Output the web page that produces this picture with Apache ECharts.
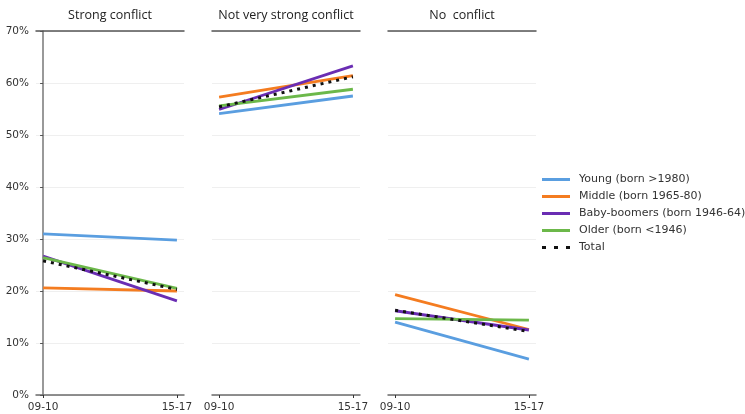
<!DOCTYPE html>
<html>
<head>
<meta charset="utf-8">
<script src="https://cdn.jsdelivr.net/npm/echarts@6/dist/echarts.min.js"></script>
<style>
  html, body { margin: 0; padding: 0; background: #fff; }
  #chart { width: 745px; height: 414px; }
</style>
</head>
<body>
<div id="chart"></div>
<script>
// Periods on the x axis (position 0 and 1)
const periods = ['09-10', '15-17'];
const panels = ['Strong conflict', 'Not very strong conflict', 'No  conflict'];
const groups = ['Young (born >1980)', 'Middle (born 1965-80)', 'Baby-boomers (born 1946-64)', 'Older (born <1946)', 'Total'];

// Share (%) per group: [09-10, 15-17] for each panel
const young   = [[31.0, 29.8], [54.1, 57.5], [14.0, 6.9]];
const middle  = [[20.6, 20.0], [57.3, 61.4], [19.3, 12.6]];
const boomers = [[26.7, 18.1], [54.9, 63.3], [16.2, 12.5]];
const older   = [[26.4, 20.5], [55.6, 58.8], [14.7, 14.4]];
const total   = [[25.8, 20.3], [55.4, 61.2], [16.3, 12.2]];

const seriesValues = [young, middle, boomers, older, total];
const colors = ['#5a9ee0', '#f47c20', '#6a2db3', '#6cb84a', '#111111'];

const gridLefts = [36, 212, 388];
const gridWidth = 148;

const grids = [], xAxes = [], yAxes = [], series = [];
panels.forEach((title, p) => {
  grids.push({ left: gridLefts[p], width: gridWidth, top: 31, bottom: 19, outerBoundsMode: 'none', containLabel: false });
  // bottom axis with two period ticks
  xAxes.push({
    type: 'value', gridIndex: p, min: -0.053, max: 1.053, position: 'bottom',
    axisLine: { show: true, lineStyle: { color: '#6b6b6b', width: 1.5 } },
    axisTick: { show: true, customValues: [0, 1], length: 3, lineStyle: { color: '#333' } },
    axisLabel: { show: true, customValues: [0, 1], color: '#333', fontSize: 10.5, margin: 7,
      fontFamily: 'DejaVu Sans',
      formatter: v => periods[Math.round(v)] },
    splitLine: { show: false }
  });
  // top border line carrying the panel title
  xAxes.push({
    type: 'value', gridIndex: p, min: 0, max: 1, position: 'top',
    name: title, nameLocation: 'middle', nameGap: 9,
    nameTextStyle: { color: '#222', fontSize: 12.5, fontFamily: 'Open Sans' },
    axisLine: { show: true, lineStyle: { color: '#555', width: 1.5 } },
    axisTick: { show: false }, axisLabel: { show: false }, splitLine: { show: false }
  });
  yAxes.push({
    type: 'value', gridIndex: p, min: 0, max: 70, interval: 10,
    axisLine: { show: p === 0, lineStyle: { color: '#777', width: 1.5 } },
    axisTick: { show: p === 0, length: 3, lineStyle: { color: '#555' } },
    axisLabel: { show: p === 0, color: '#333', fontSize: 10.5, margin: 7,
      fontFamily: 'DejaVu Sans', formatter: v => v + '%' },
    splitLine: { show: true, lineStyle: { color: '#efefef', width: 1 } }
  });
  groups.forEach((g, i) => {
    const isTotal = i === 4;
    series.push({
      name: g, type: 'line', xAxisIndex: p * 2, yAxisIndex: p,
      data: seriesValues[i][p].map((v, k) => [k, v]),
      symbol: 'none', silent: true, z: isTotal ? 5 : 3,
      lineStyle: isTotal
        ? { color: colors[i], width: 3, type: [3, 5], cap: 'butt' }
        : { color: colors[i], width: 2.8 },
      itemStyle: { color: colors[i] }
    });
  });
});

// Legend keys: solid bar for the groups, three dots for the total
const solidKey = 'path://M0,0h28v3h-28z';
const dotsKey = 'path://M0,0h4v3h-4z M12,0h4v3h-4z M24,0h4v3h-4z';

const chart = echarts.init(document.getElementById('chart'), null, { renderer: 'canvas' });
chart.setOption({
  animation: false,
  backgroundColor: '#fff',
  grid: grids,
  xAxis: xAxes,
  yAxis: yAxes,
  legend: {
    data: groups.map((g, i) => ({
      name: g,
      icon: i === 4 ? dotsKey : solidKey,
      itemStyle: { color: colors[i] }
    })),
    orient: 'vertical', left: 542, top: 173, padding: 0,
    itemWidth: 28, itemHeight: 3, itemGap: 4,
    textStyle: { color: '#333', fontSize: 11, lineHeight: 13, fontFamily: 'DejaVu Sans', padding: [0, 0, 0, 4] }
  },
  series: series
});
</script>
</body>
</html>
